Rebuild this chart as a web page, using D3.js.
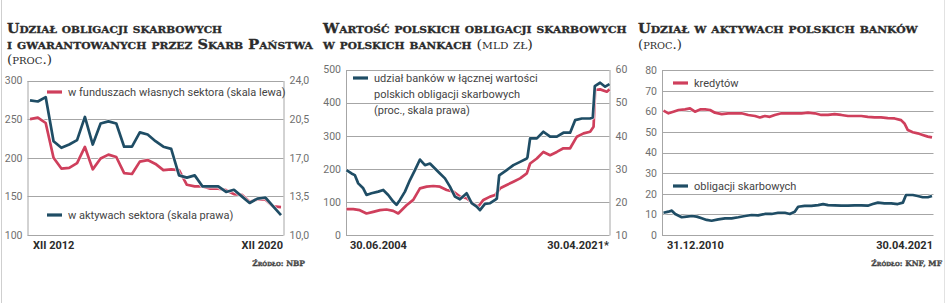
<!DOCTYPE html>
<html><head><meta charset="utf-8">
<script src="https://cdn.jsdelivr.net/npm/d3@7/dist/d3.min.js"></script>
<style>
  html,body{margin:0;padding:0;background:#fff;}
  svg{display:block;}
</style>
</head><body>
<svg id="chart" width="948" height="303"></svg>
<script>
/* three small newspaper charts side by side: bond share, bank bond holdings, bank asset shares */

// ---- panel 1: quarterly XII 2012 .. XII 2020 ----
var p1Quarters = d3.range(33); // 0 = XII 2012, 32 = XII 2020
var p1Equity = [250,252,245,200,186,187,193,214,185,199,204,201,180,179,195,197,192,184,185,184,
                165,163,163,160,160,158,153,152,143,146,146,137,136];
var p1Assets = [22.2,22.1,22.5,18.5,17.9,18.2,18.6,20.7,18.2,20.1,20.3,20.1,18.0,18.0,19.3,19.1,18.5,
                18.0,17.8,15.4,15.2,15.4,14.4,14.4,14.4,13.9,14.1,13.5,12.9,13.3,13.4,12.6,11.8];
var p1LeftTicks = [100,150,200,250,300];
var p1RightTicks = [10,13.5,17,20.5,24];
var p1XLabels = ["XII 2012","XII 2020"];

// ---- panel 2: 30.06.2004 .. 30.04.2021, value (mld zł) and share (%) ----
var p2RedYears = [2004.50,2004.93,2005.35,2005.78,2006.21,2006.64,2007.06,2007.49,2007.81,2008.02,2008.34,
  2008.77,2009.20,2009.63,2010.05,2010.48,2010.91,2011.34,2011.76,2012.19,2012.62,2012.94,2013.26,2013.69,
  2014.01,2014.33,2014.75,2015.18,2015.61,2016.04,2016.25,2016.68,2017.10,2017.53,2017.96,2018.38,2018.81,
  2019.24,2019.67,2020.09,2020.31,2020.41,2020.73,2021.16,2021.33];
var p2Value = [78,78,75,65,70,75,77,73,65,75,90,106,141,146,148,146,136,131,116,111,94,86,106,116,
  121,141,151,161,171,186,216,231,251,241,251,262,262,297,307,312,327,438,440,433,440];
var p2BlueYears = [2004.50,2004.82,2005.03,2005.25,2005.57,2005.78,2006.10,2006.53,2006.85,2007.17,2007.49,
  2007.70,2007.92,2008.24,2008.56,2008.88,2009.20,2009.52,2009.84,2010.16,2010.48,2010.80,2011.12,2011.44,
  2011.76,2012.19,2012.51,2012.83,2013.04,2013.36,2013.69,2014.01,2014.12,2014.27,2014.75,2015.18,2015.61,
  2016.04,2016.08,2016.25,2016.68,2017.10,2017.53,2017.96,2018.38,2018.81,2019.13,2019.56,2020.09,2020.26,
  2020.39,2020.73,2021.05,2021.33];
var p2Share = [29.6,28.6,28.1,25.6,24.1,22.1,22.6,23.1,23.6,22.1,20.1,19.1,20.6,23.1,26.6,29.6,32.8,31.1,
  31.6,30.1,28.6,27.1,24.6,21.6,20.8,22.6,19.6,18.6,17.5,19.4,19.6,20.6,21.0,28.0,29.6,31.1,32.1,33.1,
  33.5,39.2,39.2,41.2,39.7,39.7,40.9,40.9,44.7,45.2,45.2,45.5,55.0,56.0,54.8,55.6];
var p2LeftTicks = [0,100,200,300,400,500];
var p2RightTicks = [10,20,30,40,50,60];
var p2XLabels = ["30.06.2004","30.04.2021*"];

// ---- panel 3: 31.12.2010 .. 30.04.2021, share of bank assets (%) ----
var p3RedYears = [2011.00,2011.19,2011.38,2011.58,2011.83,2012.02,2012.21,2012.41,2012.60,2012.79,2012.98,
  2013.24,2013.49,2013.75,2014.00,2014.26,2014.52,2014.71,2014.90,2015.09,2015.28,2015.54,2015.79,2016.05,
  2016.31,2016.56,2016.82,2017.07,2017.33,2017.58,2017.84,2018.10,2018.35,2018.61,2018.86,2019.12,2019.37,
  2019.63,2019.89,2020.14,2020.27,2020.40,2020.59,2020.78,2020.97,2021.17,2021.33];
var p3Loans = [60.3,59.0,59.8,60.6,60.9,61.4,59.8,60.9,60.9,60.6,59.3,58.6,59.0,59.0,59.0,58.2,57.7,57.0,
  57.7,57.3,58.2,59.0,59.0,59.0,59.0,59.3,59.0,58.2,58.2,58.6,58.2,57.7,57.7,57.7,57.3,57.0,57.0,56.7,
  56.5,55.7,54.1,50.9,49.8,49.3,48.5,47.7,47.3];
var p3BlueYears = [2011.00,2011.19,2011.32,2011.45,2011.70,2011.89,2012.09,2012.28,2012.47,2012.66,2012.85,
  2013.11,2013.37,2013.62,2013.88,2014.13,2014.39,2014.64,2014.90,2015.16,2015.41,2015.67,2015.86,2016.05,
  2016.18,2016.43,2016.69,2016.95,2017.14,2017.33,2017.58,2017.84,2018.10,2018.35,2018.61,2018.86,2019.05,
  2019.25,2019.50,2019.76,2020.01,2020.21,2020.33,2020.59,2020.78,2020.97,2021.17,2021.33];
var p3Bonds = [10.8,11.3,11.8,10.2,8.6,8.9,9.2,8.9,8.1,7.3,6.9,7.6,8.1,8.1,8.6,9.2,9.7,9.5,10.2,10.2,
  10.8,10.8,10.2,11.3,13.7,14.1,14.1,14.5,15.0,14.5,14.4,14.2,14.2,14.4,14.4,14.2,15.0,15.7,15.3,15.3,
  15.0,15.7,19.4,19.4,18.9,18.3,18.3,18.9];
var p3Ticks = [0,10,20,30,40,50,60,70,80];
var p3XLabels = ["31.12.2010","30.04.2021"];

var BLUE = "#1f4d65", RED = "#cf3f5c", GRID = "#a6a6a6", TICK = "#6f6f6f", INK = "#2b2b2b";
var SERIF = "'DejaVu Serif', 'Liberation Serif', serif";
var NARROW = "'Liberation Sans Narrow', 'Roboto', sans-serif";

var svg = d3.select("#chart");
svg.append("line").attr("x1",1.5).attr("x2",1.5).attr("y1",0).attr("y2",303).attr("stroke","#cfcfcf");
svg.append("line").attr("x1",944.5).attr("x2",944.5).attr("y1",0).attr("y2",303).attr("stroke","#e2e2e2");

// hand-made small caps: lower-case runs become upper-case at a smaller size
function smallCaps(t, str, size, weight) {
  var runs = str.match(/[a-ząćęłńóśźż]+|[^a-ząćęłńóśźż]+/g) || [];
  runs.forEach(function(r){
    var low = /[a-ząćęłńóśźż]/.test(r);
    t.append("tspan").attr("font-weight", weight).attr("font-size", low ? size*0.74 : size)
      .attr("stroke", weight > 400 ? INK : "none").attr("stroke-width", 0.3)
      .text(low ? r.toUpperCase() : r);
  });
}
// lines: [ [ [text, bold], ... ], width ] ; the headline face is wider, so each line is stretched to width
function title(x, lines) {
  lines.forEach(function(ln, i){
    var t = svg.append("text").attr("x", 0).attr("y", 0)
      .attr("font-family", SERIF).attr("fill", INK);
    ln[0].forEach(function(p){ smallCaps(t, p[0], 12, p[1] ? 700 : 400); });
    var k = ln[1] / t.node().getComputedTextLength();
    t.attr("transform", "translate(" + x + "," + (33 + i*15.5) + ") scale(" + k + ",1)");
  });
}
function source(x, txt) {
  var t = svg.append("text").attr("x", x).attr("y", 266).attr("text-anchor","end")
    .attr("font-family", SERIF).attr("fill","#555");
  smallCaps(t, txt, 7.5, 700);
}
function legend(x, y, col, lines) {
  svg.append("line").attr("x1", x).attr("x2", x+15).attr("y1", y).attr("y2", y)
    .attr("stroke", col).attr("stroke-width", 3.2);
  lines.forEach(function(s, i){
    svg.append("text").attr("x", x+21).attr("y", y+4 + i*15.8)
      .attr("font-family", NARROW).attr("font-size", 11).attr("fill","#444").text(s);
  });
}
function grid(g, y, ticks, x0, x1) {
  ticks.forEach(function(t){
    g.append("line").attr("x1",x0).attr("x2",x1).attr("y1",Math.round(y(t))+0.5).attr("y2",Math.round(y(t))+0.5)
      .attr("stroke",GRID).attr("stroke-width",1);
  });
}
function yAxis(g, scale, ticks, x, side, fmt) {
  var ax = (side === "left" ? d3.axisLeft(scale) : d3.axisRight(scale))
    .tickValues(ticks).tickSize(0).tickPadding(side === "left" ? 5 : 6).tickFormat(fmt);
  var a = g.append("g").attr("transform","translate("+x+",0)").call(ax);
  a.select(".domain").attr("stroke", GRID);
  a.selectAll("text").attr("font-family", NARROW).attr("font-size", 10.5).attr("fill", TICK);
}
function xLabels(labels, x0, x1) {
  svg.append("text").attr("x", x0).attr("y", 249).attr("font-family", NARROW).attr("font-weight",700)
    .attr("font-size", 11).attr("fill", INK).text(labels[0]);
  svg.append("text").attr("x", x1).attr("y", 249).attr("text-anchor","end").attr("font-family", NARROW)
    .attr("font-weight",700).attr("font-size", 11).attr("fill", INK).text(labels[1]);
}
function series(g, xs, ys, xScale, yScale, col) {
  var line = d3.line().x(function(d){ return xScale(d[0]); }).y(function(d){ return yScale(d[1]); });
  var pts = xs.map(function(v,i){ return [v, ys[i]]; });
  g.append("path").datum(pts).attr("d", line).attr("fill","none").attr("stroke","#fff")
    .attr("stroke-width", 4.2).attr("stroke-opacity", 0.7).attr("stroke-linejoin","round");
  g.append("path").datum(pts).attr("d", line).attr("fill","none").attr("stroke",col)
    .attr("stroke-width", 2.7).attr("stroke-linejoin","round");
}
var comma = function(d){ return d3.format(".1f")(d).replace(".", ","); };

/* ---- panel 1 ---- */
title(7, [[[["Udział obligacji skarbowych",1]], 215], [[["i gwarantowanych przez Skarb Państwa",1]], 306],
          [[["(proc.)",0]], 45]]);
var g1 = svg.append("g");
var y1L = d3.scaleLinear().domain([100,300]).range([235,80.5]);
var y1R = d3.scaleLinear().domain([10,24]).range([235,80.5]);
var x1 = d3.scaleLinear().domain([0,32]).range([30,281]);
grid(g1, y1L, p1LeftTicks, 27.5, 283.5);
yAxis(g1, y1L, p1LeftTicks, 27.5, "left", d3.format("d"));
yAxis(g1, y1R, p1RightTicks, 283.5, "right", comma);
series(g1, p1Quarters, p1Equity, x1, y1L, RED);
series(g1, p1Quarters, p1Assets, x1, y1R, BLUE);
legend(47, 92, RED, ["w funduszach własnych sektora (skala lewa)"]);
legend(47, 215, BLUE, ["w aktywach sektora (skala prawa)"]);
xLabels(p1XLabels, 33, 283);
source(305, "Źródło: NBP");

/* ---- panel 2 ---- */
title(323, [[[["Wartość polskich obligacji skarbowych",1]], 304],
            [[["w polskich bankach ",1],["(mld zł)",0]], 210]]);
var g2 = svg.append("g");
var y2L = d3.scaleLinear().domain([0,500]).range([235,69.5]);
var y2R = d3.scaleLinear().domain([10,60]).range([235,69.5]);
var x2 = d3.scaleLinear().domain([2004.5,2021.33]).range([346.5,609.5]);
grid(g2, y2L, p2LeftTicks, 346, 609.5);
yAxis(g2, y2L, p2LeftTicks, 346, "left", d3.format("d"));
yAxis(g2, y2R, p2RightTicks, 609.5, "right", d3.format("d"));
series(g2, p2RedYears, p2Value, x2, y2L, RED);
series(g2, p2BlueYears, p2Share, x2, y2R, BLUE);
legend(353, 78, BLUE, ["udział banków w łącznej wartości","polskich obligacji skarbowych","(proc., skala prawa)"]);
xLabels(p2XLabels, 350, 609);

/* ---- panel 3 ---- */
title(638, [[[["Udział w aktywach polskich banków",1]], 280], [[["(proc.)",0]], 44]]);
var g3 = svg.append("g");
var y3 = d3.scaleLinear().domain([0,80]).range([235,70]);
var x3 = d3.scaleLinear().domain([2011,2021.33]).range([663.5,932]);
grid(g3, y3, p3Ticks, 662, 933.5);
yAxis(g3, y3, p3Ticks, 662, "left", d3.format("d"));
series(g3, p3RedYears, p3Loans, x3, y3, RED);
series(g3, p3BlueYears, p3Bonds, x3, y3, BLUE);
legend(673, 83, RED, ["kredytów"]);
legend(673, 186, BLUE, ["obligacji skarbowych"]);
xLabels(p3XLabels, 667, 933);
source(942, "Źródło: KNF, MF");
</script>
</body></html>
